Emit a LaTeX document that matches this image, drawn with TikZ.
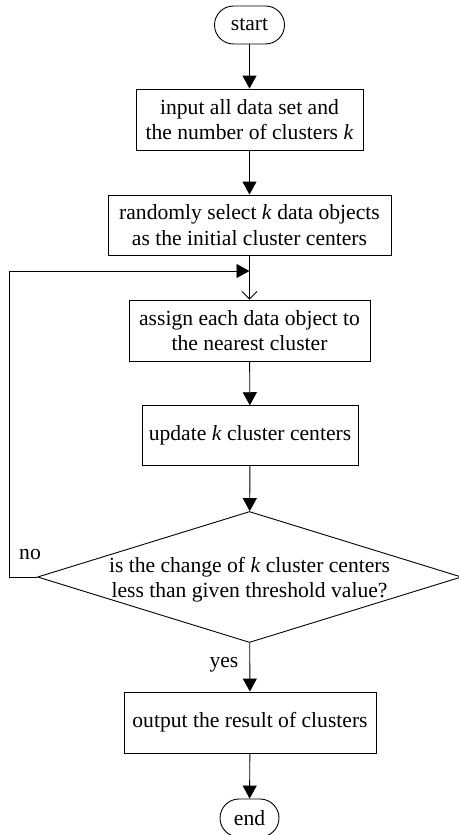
\documentclass[tikz,border=0pt]{standalone}
\usepackage{fontspec}
\setmainfont{Liberation Serif}
\usetikzlibrary{arrows.meta,shapes.geometric}

\newcommand{\flowfont}{\fontsize{21.6}{25.5}\selectfont}

\tikzset{
  flowline/.style={draw=black, line width=0.9pt},
  tri/.style={flowline, -{Triangle[length=13pt,width=14pt]}},
  barb/.style={flowline, -{Straight Barb[length=7.5pt,width=15pt,line width=0.8pt]}},
  procbox/.style={draw=black, line width=0.9pt, rectangle, align=center,
    inner sep=0pt, font=\flowfont},
  terminal/.style={draw=black, line width=0.9pt, rectangle, rounded corners=19pt,
    minimum height=38pt, inner sep=0pt, font=\flowfont},
  decision/.style={draw=black, line width=0.9pt, diamond, inner sep=0pt,
    minimum width=424pt, minimum height=131pt},
  lbl/.style={inner sep=0pt, align=center, font=\flowfont}
}

\begin{document}
\begin{tikzpicture}[x=1pt, y=-1pt]
  \useasboundingbox (0,0) rectangle (458,835);

  % terminals and process steps
  \node[terminal, minimum width=70pt] (start) at (249.5,25) {start};
  \node[procbox, minimum width=227pt, minimum height=61pt] (input) at (249.5,119.5)
    {input all data set and\\the number of clusters \textit{k}};
  \node[procbox, minimum width=283pt, minimum height=60pt] (select) at (249.5,225)
    {randomly select \textit{k} data objects\\as the initial cluster centers};
  \coordinate (merge) at (249.5,271);
  \node[procbox, minimum width=241pt, minimum height=61pt] (assign) at (249.5,330.5)
    {assign each data object to\\the nearest cluster};
  \node[procbox, minimum width=216pt, minimum height=60pt] (update) at (250,435.7)
    {update \textit{k} cluster centers};

  % convergence test
  \node[decision] (test) at (249.5,577) {};
  \node[lbl] (testtext) at (249.5,579.5)
    {is the change of \textit{k} cluster centers\\less than given threshold value?};

  \node[procbox, minimum width=252pt, minimum height=61pt] (output) at (250,722.5)
    {output the result of clusters};
  \node[terminal, minimum width=59pt] (end) at (249.5,818) {end};

  % main flow
  \draw[tri] (start) -- (input);
  \draw[tri] (input) -- (select);
  \draw[flowline] (select) -- (merge);
  \draw[barb] (merge) -- (assign);
  \draw[tri] (assign) -- (update);
  \draw[tri] (update) -- (test);
  \draw[tri] (test) -- (output);
  \draw[tri] (output) -- (end);

  % loop back when not converged
  \coordinate (loopbot) at (9,577);
  \coordinate (looptop) at (9,271);
  \draw[tri] (test.west) -- (loopbot) -- (looptop) -- (merge);

  % branch labels
  \node[lbl] (nolbl) at (30,555) {no};
  \node[lbl] (yeslbl) at (224,665) {yes};
\end{tikzpicture}
\end{document}
